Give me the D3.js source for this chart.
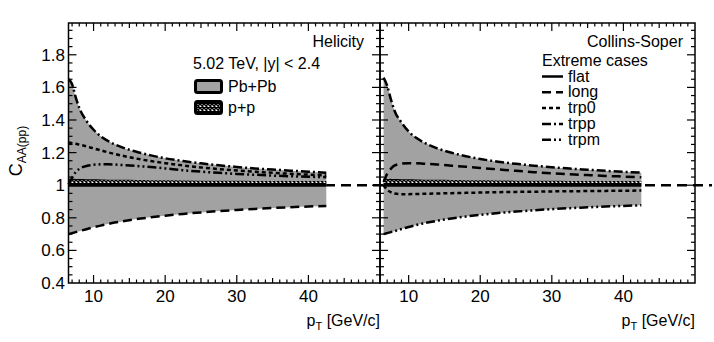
<!DOCTYPE html>
<meta charset="utf-8">
<style>
  body { margin: 0; background: #fff; }
  text { font-family: "Liberation Sans", Arial, sans-serif; fill: #000; }
</style>
<body>
<script src="https://d3js.org/d3.v7.min.js"></script>
<script>

// pT points of the curves (GeV/c)
const pT = [6.5, 7, 7.5, 8, 9, 10, 11, 12, 14, 16, 18, 20, 22.5, 25, 27.5, 30, 32.5, 35, 37.5, 40, 42.5];

// Helicity frame, extreme cases
const heliFlat = pT.map(() => 1.0);
const heliLong = [0.700, 0.706, 0.712, 0.718, 0.730, 0.742, 0.752, 0.762, 0.778, 0.792, 0.803, 0.813, 0.824, 0.833, 0.841, 0.848, 0.854, 0.860, 0.865, 0.869, 0.873];
const heliTrp0 = [1.262, 1.258, 1.254, 1.249, 1.238, 1.226, 1.214, 1.202, 1.181, 1.163, 1.148, 1.135, 1.121, 1.109, 1.099, 1.090, 1.083, 1.076, 1.070, 1.065, 1.060];
const heliTrpp = [1.650, 1.620, 1.540, 1.475, 1.395, 1.340, 1.300, 1.272, 1.232, 1.205, 1.183, 1.165, 1.148, 1.134, 1.122, 1.112, 1.103, 1.096, 1.089, 1.083, 1.077];
const heliTrpm = [1.005, 1.045, 1.080, 1.100, 1.118, 1.125, 1.128, 1.128, 1.124, 1.118, 1.111, 1.103, 1.092, 1.083, 1.076, 1.069, 1.064, 1.059, 1.055, 1.052, 1.049];

// Collins-Soper frame, extreme cases
const csFlat = pT.map(() => 1.0);
const csLong = [1.020, 1.070, 1.100, 1.120, 1.132, 1.135, 1.134, 1.132, 1.127, 1.120, 1.113, 1.106, 1.097, 1.088, 1.080, 1.073, 1.067, 1.062, 1.057, 1.053, 1.049];
const csTrp0 = [1.000, 0.972, 0.957, 0.949, 0.945, 0.945, 0.946, 0.947, 0.949, 0.951, 0.953, 0.955, 0.957, 0.959, 0.960, 0.962, 0.963, 0.964, 0.965, 0.966, 0.967];
const csTrpp = [1.660, 1.610, 1.530, 1.460, 1.385, 1.330, 1.292, 1.265, 1.226, 1.199, 1.178, 1.161, 1.144, 1.131, 1.120, 1.110, 1.102, 1.095, 1.088, 1.082, 1.077];
const csTrpm = [0.700, 0.706, 0.712, 0.718, 0.731, 0.744, 0.755, 0.765, 0.782, 0.796, 0.808, 0.818, 0.829, 0.838, 0.846, 0.853, 0.859, 0.864, 0.869, 0.873, 0.877];

// p+p reference band
const ppLo = pT.map(() => 0.997);
const ppHi = [1.040, 1.040, 1.039, 1.038, 1.037, 1.036, 1.035, 1.034, 1.033, 1.032, 1.031, 1.030, 1.029, 1.028, 1.027, 1.027, 1.026, 1.026, 1.025, 1.025, 1.025];

const yTicks = [0.4, 0.6, 0.8, 1.0, 1.2, 1.4, 1.6, 1.8];
const yTickLabels = ["0.4", "0.6", "0.8", "1", "1.2", "1.4", "1.6", "1.8"];
const xTicks = [10, 20, 30, 40];

const caseNames = ["flat", "long", "trp0", "trpp", "trpm"];
const dashes = {flat: null, long: "9,5", trp0: "4,3", trpp: "9,3,2,3", trpm: "9,3,2,3,2,3"};

const W = 714, H = 342;
const svg = d3.select("body").append("svg").attr("width", W).attr("height", H);

// hatch pattern for p+p
const defs = svg.append("defs");
const pat = defs.append("pattern").attr("id", "hatch").attr("patternUnits", "userSpaceOnUse")
  .attr("width", 4).attr("height", 4);
pat.append("rect").attr("width", 4).attr("height", 4).attr("fill", "#fff");
pat.append("path").attr("d", "M-1,-1L5,5M5,-1L-1,5").attr("stroke", "#000").attr("stroke-width", 1.5);

const frameTop = 23, frameBottom = 283;
const y = d3.scaleLinear().domain([0.4, 1.995]).range([frameBottom, frameTop]);

const panels = [
  {x0: 68.5, x1: 380, dom: [6.5, 50], curves: {flat: heliFlat, long: heliLong, trp0: heliTrp0, trpp: heliTrpp, trpm: heliTrpm}, title: "Helicity", titleX: 364},
  {x0: 380, x1: 695, dom: [6, 50], curves: {flat: csFlat, long: csLong, trp0: csTrp0, trpp: csTrpp, trpm: csTrpm}, title: "Collins-Soper", titleX: 683}
];

// dashed reference line at unity across both panels
svg.append("line").attr("x1", 69).attr("x2", 712).attr("y1", y(1)).attr("y2", y(1))
  .attr("stroke", "#000").attr("stroke-width", 2.5).attr("stroke-dasharray", "10,6");

panels.forEach((p, pi) => {
  const x = d3.scaleLinear().domain(p.dom).range([p.x0, p.x1]);
  const g = svg.append("g");

  const bandHi = pT.map((_, i) => d3.max(caseNames, c => p.curves[c][i]));
  const bandLo = pT.map((_, i) => d3.min(caseNames, c => p.curves[c][i]));

  const area = d3.area().x((d, i) => x(pT[i])).curve(d3.curveMonotoneX);
  g.append("path").datum(pT)
    .attr("d", area.y0((d, i) => y(bandLo[i])).y1((d, i) => y(bandHi[i])))
    .attr("fill", "#a2a2a2");
  g.append("path").datum(pT)
    .attr("d", area.y0((d, i) => y(ppLo[i])).y1((d, i) => y(ppHi[i])))
    .attr("fill", "url(#hatch)");

  const line = d3.line().x((d, i) => x(pT[i])).y(d => y(d)).curve(d3.curveMonotoneX);
  caseNames.slice().reverse().forEach(c => {
    g.append("path").datum(p.curves[c]).attr("d", line)
      .attr("fill", "none").attr("stroke", "#000")
      .attr("stroke-width", c === "flat" ? 3 : 2.5)
      .attr("stroke-dasharray", dashes[c]);
  });

  // frame
  g.append("rect").attr("x", p.x0).attr("y", frameTop).attr("width", p.x1 - p.x0).attr("height", frameBottom - frameTop)
    .attr("fill", "none").attr("stroke", "#000").attr("stroke-width", 1.5);

  // x ticks (1 minor, 5 medium, 10 major), bottom and top, pointing inward
  const xs = d3.range(Math.ceil(p.dom[0]), Math.floor(p.dom[1]) + 1);
  xs.forEach(v => {
    const len = v % 10 === 0 ? 8 : (v % 5 === 0 ? 5 : 3.5);
    if (v === p.dom[0] || v === p.dom[1]) return;
    g.append("line").attr("x1", x(v)).attr("x2", x(v)).attr("y1", frameBottom).attr("y2", frameBottom - len)
      .attr("stroke", "#000").attr("stroke-width", 1.2);
    g.append("line").attr("x1", x(v)).attr("x2", x(v)).attr("y1", frameTop).attr("y2", frameTop + len)
      .attr("stroke", "#000").attr("stroke-width", 1.2);
  });
  g.selectAll(".xl").data(xTicks).join("text")
    .attr("x", d => x(d)).attr("y", 302).attr("text-anchor", "middle")
    .attr("font-size", 17).text(d => d);

  // y ticks every 0.05, major every 0.2
  d3.range(0.45, 1.99, 0.05).forEach(v => {
    const major = Math.abs(v * 5 - Math.round(v * 5)) < 1e-6;
    const len = major ? 8 : 4;
    g.append("line").attr("x1", p.x0).attr("x2", p.x0 + len).attr("y1", y(v)).attr("y2", y(v))
      .attr("stroke", "#000").attr("stroke-width", 1.2);
    g.append("line").attr("x1", p.x1).attr("x2", p.x1 - len).attr("y1", y(v)).attr("y2", y(v))
      .attr("stroke", "#000").attr("stroke-width", 1.2);
  });

  if (pi === 0) {
    g.selectAll(".yl").data(yTicks).join("text")
      .attr("x", 65).attr("y", d => y(d) + 6).attr("text-anchor", "end")
      .attr("font-size", 17).text((d, i) => yTickLabels[i]);
  }

  // panel label
  g.append("text").attr("x", p.titleX).attr("y", 47).attr("text-anchor", "end")
    .attr("font-size", 16).text(p.title);

  // x title
  const xt = g.append("text").attr("x", p.x1).attr("y", 326).attr("text-anchor", "end").attr("font-size", 16);
  xt.append("tspan").text("p");
  xt.append("tspan").attr("font-size", 11).attr("dy", 4).text("T");
  xt.append("tspan").attr("dy", -4).text(" [GeV/c]");
});

// y title
const yt = svg.append("text").attr("transform", "translate(22,151) rotate(-90)")
  .attr("text-anchor", "middle").attr("font-size", 18);
yt.append("tspan").text("C");
yt.append("tspan").attr("font-size", 12).attr("dy", 4).text("AA(pp)");

// left legend
svg.append("text").attr("x", 193).attr("y", 69).attr("font-size", 16).text("5.02 TeV, |y| < 2.4");
svg.append("rect").attr("x", 195.5).attr("y", 80.5).attr("width", 26).attr("height", 12).attr("rx", 2)
  .attr("fill", "#a2a2a2").attr("stroke", "#000").attr("stroke-width", 3);
svg.append("text").attr("x", 228).attr("y", 92).attr("font-size", 16).text("Pb+Pb");
svg.append("rect").attr("x", 195.5).attr("y", 101.5).attr("width", 26).attr("height", 12).attr("rx", 2)
  .attr("fill", "url(#hatch)").attr("stroke", "#000").attr("stroke-width", 3);
svg.append("text").attr("x", 228).attr("y", 113).attr("font-size", 16).text("p+p");

// right legend
svg.append("text").attr("x", 542).attr("y", 66).attr("font-size", 16).text("Extreme cases");
caseNames.forEach((c, i) => {
  const by = 81.5 + i * 15.8;
  svg.append("line").attr("x1", 542).attr("x2", 563).attr("y1", by - 5).attr("y2", by - 5)
    .attr("stroke", "#000").attr("stroke-width", 2.5).attr("stroke-dasharray", dashes[c]);
  svg.append("text").attr("x", 568).attr("y", by).attr("font-size", 16).text(c);
});

</script>
</body>
